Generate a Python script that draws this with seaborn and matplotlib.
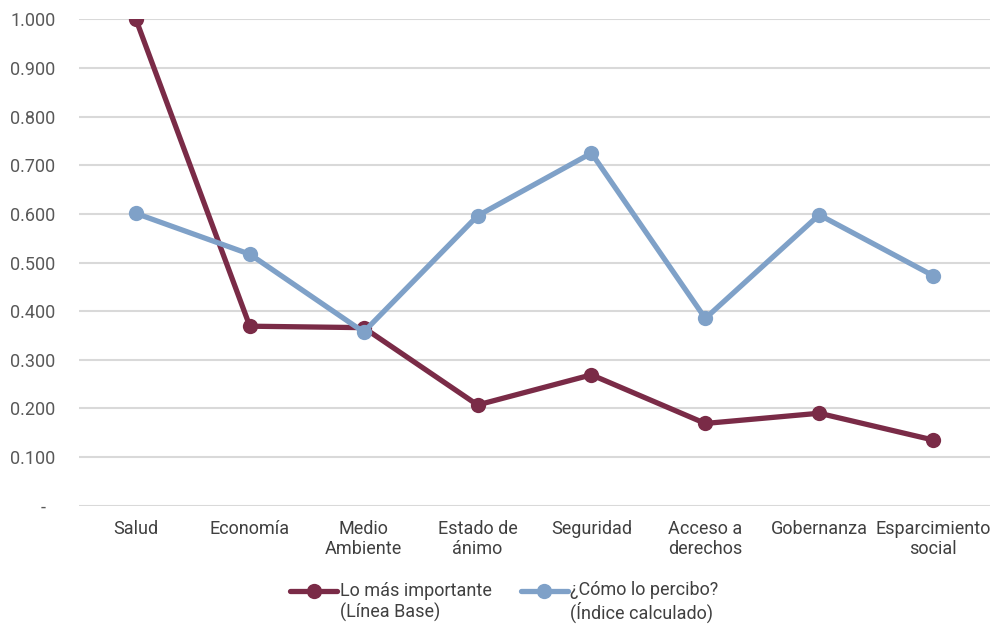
import numpy as np
import pandas as pd
import matplotlib
matplotlib.use("Agg")
import matplotlib.pyplot as plt
from matplotlib.ticker import FuncFormatter
import seaborn as sns

categories = ["Salud", "Economía", "Medio\nAmbiente", "Estado de\nánimo", "Seguridad",
              "Acceso a\nderechos", "Gobernanza", "Esparcimiento\nsocial"]
importante = [1.000, 0.369, 0.366, 0.207, 0.269, 0.169, 0.190, 0.135]
percibo = [0.601, 0.517, 0.357, 0.596, 0.725, 0.385, 0.598, 0.473]
series_names = ["Lo más importante\n(Línea Base)", "¿Cómo lo percibo?\n(Índice calculado)"]
colors = ["#7A2B47", "#7FA1C8"]
yticks = [0.0, 0.1, 0.2, 0.3, 0.4, 0.5, 0.6, 0.7, 0.8, 0.9, 1.0]

df = pd.concat([
    pd.DataFrame({"cat": categories, "val": importante, "serie": series_names[0]}),
    pd.DataFrame({"cat": categories, "val": percibo, "serie": series_names[1]}),
])

sns.set_theme(style="white")
plt.rcParams["font.family"] = ["Roboto", "DejaVu Sans"]

fig = plt.figure(figsize=(9.9, 6.25), dpi=100)
ax = fig.add_axes([0.0798, 0.191, 0.9202, 0.778])

sns.lineplot(data=df, x="cat", y="val", hue="serie", palette=colors, sort=False,
             marker="o", markersize=11, markeredgewidth=0, linewidth=3.8, ax=ax)

ax.set_xlim(-0.5, len(categories) - 0.5)
ax.set_ylim(0, 1.0)
ax.set_yticks(yticks)
ax.yaxis.set_major_formatter(FuncFormatter(lambda v, p: "-  " if abs(v) < 1e-9 else f"{v:.3f}"))
ax.grid(axis="y", color="#D9D9D9", linewidth=1.5)
ax.set_axisbelow(True)
for s in ax.spines.values():
    s.set_visible(False)
ax.set_xlabel("")
ax.set_ylabel("")
ax.tick_params(axis="both", length=0, labelsize=13)
ax.tick_params(axis="x", pad=10, labelcolor="#404040")
ax.tick_params(axis="y", pad=17, labelcolor="#595959")

handles, labels = ax.get_legend_handles_labels()
leg = ax.legend(handles, labels, loc="upper center", bbox_to_anchor=(0.467, -0.104),
                ncol=2, frameon=False, fontsize=13, labelcolor="#404040",
                handlelength=2.6, handleheight=5.1, handletextpad=0.15, columnspacing=1.6)

fig.savefig("out.png", dpi=100)
